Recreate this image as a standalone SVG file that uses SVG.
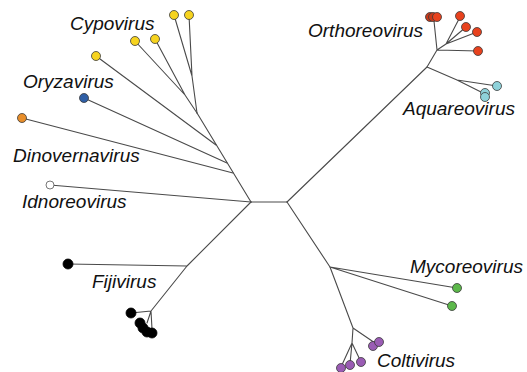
<svg xmlns="http://www.w3.org/2000/svg" width="527" height="372" viewBox="0 0 527 372">
<style>
.e{stroke:#4a4a4a;stroke-width:1.1;fill:none;stroke-linecap:round}
.n{stroke:#3a3a3a;stroke-width:0.8}
.lb{font-family:"Liberation Sans",Arial,sans-serif;font-style:italic;font-size:19px;fill:#111}
.y{fill:#f6d31f}.b{fill:#2f5fa6}.o{fill:#e88e2a}.w{fill:#fff;stroke:#555}
.k{fill:#000;stroke:#000}.r{fill:#e8421e}.rd{fill:#c8391a}.c{fill:#8ed2da}.g{fill:#5cb84a}.p{fill:#9a5cb4}
</style>
<rect width="527" height="372" fill="#fff"/>
<g id="connectors" class="e">
<path d="M251,202 L287,202"/>
<path d="M251,202 L197,113"/>
<path d="M197,113 L192,76 M192,76 L174,15 M192,76 L189,15"/>
<path d="M197,113 L185,95 M185,95 L135,41 M185,95 L155,39"/>
<path d="M216,145 L96,56"/>
<path d="M227,163 L84,98"/>
<path d="M233,173 L22,118"/>
<path d="M251,202 L50,185"/>
<path d="M251,202 L187,266 M187,266 L68,264 M187,266 L151,311 M151,311 L131,313 M151,311 L147,323 M151,311 L152,329"/>
<path d="M287,202 L427,67 M427,67 L437,50 M437,50 L434,21 M437,50 L446,44 M446,44 L460,17 M446,44 L466,27 M446,44 L477,32 M437,50 L478,51"/>
<path d="M427,67 L457,80 M457,80 L497,86 M457,80 L485,94"/>
<path d="M287,202 L330,267 M330,267 L457,288 M330,267 L452,306"/>
<path d="M330,267 L353,328 M353,328 L375,343 M353,328 L352,343 M352,343 L341,367 M352,343 L350,364 M352,343 L361,362"/>
</g>
<g id="cypovirus">
<circle class="n y" cx="174" cy="15" r="4.5"/><circle class="n y" cx="189" cy="15" r="4.5"/>
<circle class="n y" cx="135" cy="41" r="4.5"/><circle class="n y" cx="155" cy="39" r="4.5"/>
<circle class="n y" cx="96" cy="56" r="4.5"/>
<text class="lb" x="70" y="30">Cypovirus</text>
</g>
<g id="oryzavirus">
<circle class="n b" cx="84" cy="98" r="4.5"/>
<text class="lb" x="23" y="88">Oryzavirus</text>
</g>
<g id="dinovernavirus">
<circle class="n o" cx="22" cy="118" r="4.5"/>
<text class="lb" x="13" y="162">Dinovernavirus</text>
</g>
<g id="idnoreovirus">
<circle class="n w" cx="50" cy="185" r="4"/>
<text class="lb" x="22" y="208">Idnoreovirus</text>
</g>
<g id="fijivirus">
<circle class="n k" cx="68" cy="264" r="5"/>
<circle class="n k" cx="131" cy="313" r="5"/>
<circle class="n k" cx="140" cy="323" r="5"/>
<circle class="n k" cx="143" cy="328" r="5"/>
<circle class="n k" cx="147" cy="332" r="5"/>
<circle class="n k" cx="152" cy="333" r="5"/>
<text class="lb" x="92" y="288">Fijivirus</text>
</g>
<g id="orthoreovirus">
<circle class="n rd" cx="430" cy="17" r="4.5"/><circle class="n rd" cx="433" cy="17" r="4.5"/><circle class="n r" cx="437" cy="17" r="4.5"/>
<circle class="n r" cx="460" cy="16" r="4.5"/><circle class="n r" cx="466" cy="27" r="4.5"/>
<circle class="n r" cx="477" cy="32" r="4.5"/><circle class="n r" cx="478" cy="51" r="4.5"/>
<text class="lb" x="308" y="37">Orthoreovirus</text>
</g>
<g id="aquareovirus">
<circle class="n c" cx="497" cy="86" r="4.5"/>
<circle class="n c" cx="485" cy="93" r="4.5"/><circle class="n c" cx="485" cy="97" r="4.5"/>
<text class="lb" x="403" y="115">Aquareovirus</text>
</g>
<g id="mycoreovirus">
<circle class="n g" cx="457" cy="288" r="4.5"/><circle class="n g" cx="452" cy="306" r="4.5"/>
<text class="lb" x="410" y="273">Mycoreovirus</text>
</g>
<g id="coltivirus">
<circle class="n p" cx="373" cy="346" r="4.5"/><circle class="n p" cx="379" cy="342" r="4.5"/>
<circle class="n p" cx="341" cy="368" r="4.5"/><circle class="n p" cx="350" cy="365" r="4.5"/><circle class="n p" cx="361" cy="362" r="4.5"/>
<text class="lb" x="377" y="367">Coltivirus</text>
</g>
</svg>
